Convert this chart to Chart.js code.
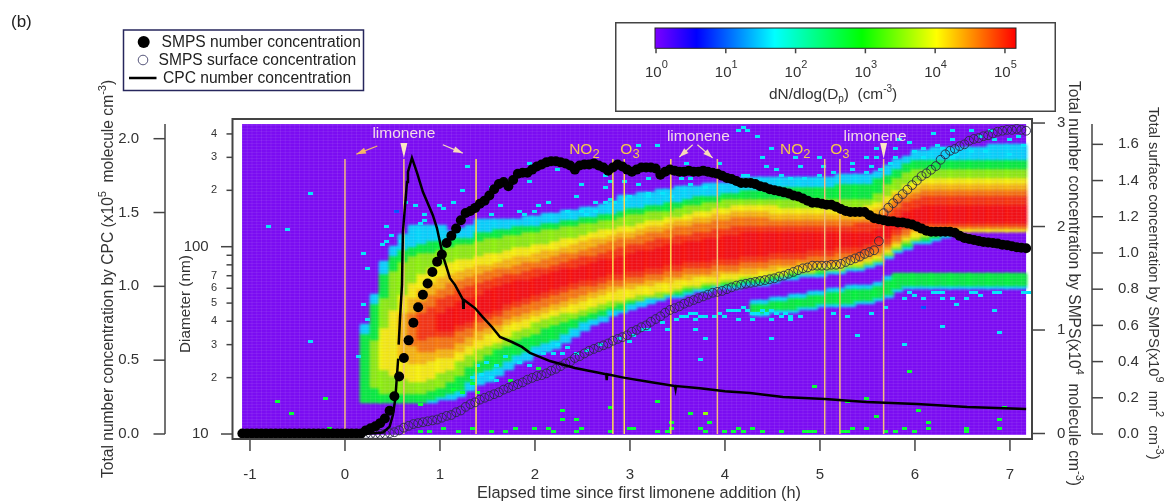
<!DOCTYPE html>
<html>
<head>
<meta charset="utf-8">
<title>Limonene SMPS chart</title>
<script src="https://cdn.jsdelivr.net/npm/chart.js@4/dist/chart.umd.min.js"></script>
<style>
html, body { margin: 0; background: #fff; }
#main { position: absolute; left: 0; top: 0; }
#bar { position: absolute; left: 615px; top: 22px; }
</style>
</head>
<body>
<canvas id="main" width="1169" height="502"></canvas>
<canvas id="bar" width="441" height="90"></canvas>
<script>
// time base of the SMPS scans (h)
var scanStart = -1.08, scanStep = 0.05;

// SMPS number concentration (x10^4 cm-3), one value per scan
var smpsNumber = [0,0,0,0,0,0,0,0,0,0,0,0,0,0,0,0,0,0,0,0,0,0,0,0,0,0,
  .03,.05,.07,.10,.145,.22,.36,.55,.73,.90,1.07,1.22,1.34,1.45,1.56,1.66,1.73,1.84,1.91,1.98,2.06,2.13,2.15,2.18,
  2.22,2.25,2.30,2.36,2.41,2.43,2.39,2.45,2.51,2.52,2.52,2.55,2.58,2.60,2.62,2.63,2.63,2.62,2.61,2.59,2.55,2.59,2.60,2.60,2.61,
  2.59,2.57,2.54,2.57,2.60,2.58,2.55,2.53,2.55,2.57,2.57,2.57,2.56,2.50,2.53,2.55,2.54,2.53,2.53,2.54,2.53,2.53,2.54,2.53,2.52,
  2.51,2.49,2.47,2.46,2.44,2.42,2.42,2.42,2.41,2.39,2.38,2.36,2.35,2.34,2.33,2.32,2.30,2.29,2.27,2.25,2.23,2.23,2.22,2.21,2.21,
  2.19,2.17,2.15,2.14,2.14,2.14,2.14,2.11,2.08,2.07,2.06,2.05,2.05,2.04,2.04,2.03,2.02,2.00,1.98,1.96,1.95,1.95,1.95,1.95,1.95,
  1.94,1.91,1.89,1.88,1.87,1.86,1.85,1.845,1.84,1.835,1.825,1.82,1.81,1.80,1.795,1.79];

// SMPS surface concentration (x10^9 nm2 cm-3), starts at scan 26
var surfaceFirstScan = 26;
var smpsSurface = [0,0,0,0,0,.005,.01,.02,.035,.045,.055,.06,.065,.07,.075,.08,.09,.10,.105,.12,.13,.15,.165,.175,
  .19,.20,.21,.22,.23,.245,.255,.265,.275,.285,.30,.31,.32,.325,.335,.35,.36,.375,.39,.40,.42,.43,.445,.46,.47,
  .48,.49,.50,.515,.525,.535,.545,.565,.575,.59,.60,.62,.635,.65,.67,.685,.695,.705,.72,.73,.74,.75,.76,.77,.78,
  .785,.79,.80,.81,.82,.825,.83,.835,.84,.845,.85,.855,.86,.87,.875,.885,.895,.905,.915,.92,.93,.93,.93,.93,.935,
  .935,.94,.95,.96,.97,.98,.995,1.005,1.015,1.065,1.22,1.25,1.275,1.30,1.325,1.35,1.375,1.40,1.425,1.44,1.46,1.48,
  1.515,1.545,1.565,1.575,1.59,1.60,1.62,1.63,1.635,1.645,1.65,1.66,1.67,1.675,1.68,1.68,1.685,1.68,1.675];

// CPC number concentration (x10^5 cm-3)
var cpcTimes = [-1.05,0,.19,.40,.47,.505,.53,.55,.56,.565,.565,.58,.60,.61,.653,.663,.705,.758,.82,.926,.968,1.03,1.105,1.158,
  1.242,1.245,1.25,1.368,1.453,1.547,1.632,1.758,1.863,1.947,2.158,2.42,2.684,2.75,2.755,2.76,2.947,3.21,3.474,3.48,3.485,3.737,4,4.263,4.61,5.05,5.49,6.02,6.55,7.17];
var cpcValues = [0,0,0,.01,.05,.13,.24,.42,.51,null,.605,.79,1.01,1.37,1.707,1.775,1.87,1.77,1.64,1.48,1.395,1.21,1.055,1.01,
  .91,.855,.91,.853,.79,.725,.657,.623,.59,.55,.494,.447,.413,.405,.365,.405,.38,.352,.325,.305,.325,.31,.29,.278,.25,.237,.217,.203,.183,.169];

// additions marked on the plot (h)
var tanEventTimes = [0,.62,3.92,5.05,5.21,5.67];
var yellowEventTimes = [1.38,2.82,2.94,3.43];
var eventTopDiameter = 294;

// size distribution: columns are 0.1 h wide starting at columnStart, values are SMPS bin numbers
// (bin 0 = 10 nm, 62.4 bins per decade). 0 = contour not present in that column.
var columnStart = 0.22;
var cyanTop = [36,46,57,62,66,69,69,69,69,67,68,69,71,71,71,71,71,72,72,73,73,74,74,75,75,76,77,79,79,80,80,81,81,82,82,82,83,83,83,84,85,85,85,85,85,85,85,85,85,85,86,86,86,86,87,89,91,92,94,94,95,95,95,95,95,95,96,96,96,96];
var greenTop = [33,43,53,59,61,62,63,64,64,65,65,65,67,67,68,68,69,69,69,70,70,71,71,72,72,73,73,74,75,75,76,76,77,77,78,79,79,79,80,80,81,81,81,81,82,82,82,82,82,82,83,83,83,83,85,86,88,90,91,91,91,91,91,91,91,91,91,91,91,91];
var limeTop = [0,31,45,54,57,59,60,60,61,62,63,63,64,65,65,66,66,67,67,68,68,69,69,70,70,71,71,72,73,73,74,74,74,75,76,76,77,77,78,78,78,78,78,78,78,78,78,78,78,78,78,78,78,78,80,83,85,87,88,88,88,88,88,88,88,88,88,88,88,88];
var yellowTop = [0,0,35,41,46,50,53,55,56,57,58,58,59,60,60,61,62,62,63,63,64,65,65,66,67,68,68,69,69,70,71,71,72,72,73,74,74,75,75,76,76,76,76,76,75,75,75,75,75,75,75,75,75,76,77,79,81,83,84,85,85,85,85,85,85,85,85,85,85,85];
var amberTop = [0,0,0,0,40,45,48,50,52,53,54,55,56,56,57,58,59,59,60,61,61,62,63,64,65,65,66,67,67,68,69,69,70,71,71,72,72,73,73,74,74,74,74,73,73,73,73,73,73,73,73,73,73,74,75,77,80,81,82,83,83,83,83,83,83,83,83,83,83,83];
var orangeTop = [0,0,0,0,0,40,44,46,48,50,51,52,53,54,55,55,56,57,57,58,59,60,60,61,62,63,64,65,65,66,67,67,68,69,69,70,70,71,71,72,72,72,72,71,71,71,71,71,71,71,71,71,71,71,73,75,78,79,80,81,81,81,81,81,81,81,81,81,81,81];
var redOrangeTop = [0,0,0,0,0,0,40,42,45,46,48,49,50,51,52,53,53,54,55,55,56,57,58,59,59,60,61,62,63,63,64,65,65,66,66,67,67,68,68,69,69,69,69,69,69,69,69,69,69,69,69,69,70,70,71,73,75,77,78,79,79,79,79,79,79,79,79,79,79,79];
var redTop = [0,0,0,0,0,0,0,0,40,42,44,45,46,48,49,50,51,51,52,53,54,55,55,56,57,58,58,59,60,61,61,62,63,63,64,64,65,65,66,66,67,67,67,67,67,67,67,67,67,67,67,67,67,67,68,70,72,74,75,76,76,76,76,76,76,76,76,76,76,76];
var redBottom = [0,0,0,0,0,0,0,0,35,35,37,38,40,41,42,44,45,46,47,48,49,50,51,52,52,53,54,54,55,55,56,56,57,57,58,58,58,59,59,59,60,60,60,61,61,61,61,62,62,62,63,63,63,64,65,66,69,71,71,71,71,71,71,71,71,71,71,71,71,71];
var redOrangeBottom = [0,0,0,0,0,0,32,33,33,33,35,36,38,39,40,42,43,44,45,46,47,48,49,50,50,51,52,52,53,53,54,54,55,55,56,56,56,57,57,57,58,58,58,59,59,59,59,60,60,60,61,61,61,62,63,64,67,69,70,70,70,70,70,70,70,70,70,70,70,70];
var orangeBottom = [0,0,0,0,0,30,28,28,29,29,31,33,35,36,37,39,40,41,42,43,44,45,46,47,48,49,50,50,51,51,52,52,53,53,54,54,54,55,55,55,56,56,56,57,57,57,58,58,58,58,59,59,59,60,61,63,65,67,69,69,69,69,69,69,69,69,69,69,69,69];
var amberBottom = [0,0,0,0,26,24,24,25,26,26,28,30,32,34,35,37,38,39,40,41,42,43,44,45,46,47,48,49,49,50,50,51,51,52,52,53,53,53,54,54,54,54,55,55,56,56,56,56,57,57,57,58,58,59,60,62,64,66,68,68,69,69,69,69,69,69,69,69,69,69];
var yellowBottom = [0,0,22,20,19,18,18,19,21,22,25,27,29,30,31,33,35,36,38,39,40,41,41,42,43,44,45,45,46,47,47,48,48,49,50,50,51,51,52,52,53,53,53,54,54,55,55,55,56,56,56,57,57,58,59,61,63,65,66,67,68,68,68,68,68,68,68,68,68,68];
var limeBottom = [0,16,14,14,14,14,14,15,16,18,20,23,25,27,29,30,32,33,34,36,37,38,39,40,41,42,43,44,45,45,46,46,47,48,49,49,50,50,51,51,52,52,52,53,53,54,54,54,55,55,55,56,56,57,58,60,62,64,65,66,67,68,68,68,68,68,68,68,68,68];
var greenBottom = [11,11,11,11,11,11,11,12,13,14,15,18,21,22,23,25,27,28,30,31,32,34,36,38,39,40,42,42,44,45,46,46,47,47,48,49,49,50,50,50,51,51,51,52,53,53,54,54,54,55,55,56,56,57,58,60,62,63,65,65,66,67,67,68,68,68,68,68,68,68];
var cyanBottom = [11,11,11,11,11,11,11,11,12,12,13,15,17,18,20,22,24,25,27,28,29,31,33,35,37,38,40,41,42,43,44,45,46,46,47,48,48,49,49,49,50,50,50,51,52,52,53,53,53,54,54,55,55,56,57,59,61,62,64,64,65,66,67,68,68,68,68,68,68,68];

// second, smaller mode below the main band, from column modeFirstColumn onward
var modeFirstColumn = 41;
var modeCyanTop = [44,44,45,45,46,46,47,47,48,48,49,49,49,50,52,53,53,53,53,53,53,53,53,53,53,53,53,53,53];
var modeCyanBottom = [40,40,41,41,41,42,42,43,43,43,43,44,44,45,46,48,49,49,49,49,49,49,49,49,49,49,49,49,49];
var modeGreenTop = [43,43,44,44,45,45,46,46,47,47,48,48,48,49,51,53,53,53,53,53,53,53,53,53,53,53,53,53,53];
var modeGreenBottom = [41,41,42,42,42,43,43,44,44,44,44,45,45,46,47,49,50,50,50,50,50,50,50,50,50,50,50,50,50];

// single scans that stand out from the background: [scan column, bin]
var cyanSpeckles = [[14,80],[5,69],[9,68],[36,76],[41,76],[42,75],[38,73],[38,71],[37,70],[30,69],[31,66],[29,63],[30,64],[25,60],[26,55],[33,64],[34,77],
  [14,31],[24,26],[25,43],[26,38],[47,89],[46,81],[44,77],[52,82],[54,76],[52,73],[60,90],[60,84],[66,88],[64,77],[62,76],[61,74],[59,73],[58,74],[68,74],[70,79],[71,83],[74,77],[76,86],[77,84],[76,82],[80,84],[83,96],[87,96],[83,83],[85,85],[93,90],[100,90],[94,85],[92,85],[104,101],[106,101],[105,86],[106,86],
  [71,74],[72,73],[74,74],[76,77],[77,78],[78,77],[80,78],[81,79],[85,80],[85,79],[88,80],[90,79],[94,83],[97,82],
  [108,99],[111,95],[109,92],[110,89],[112,88],[113,86],[116,92],[117,89],[115,85],[118,85],[121,92],[122,89],[121,86],[124,87],[128,90],[128,88],[131,92],[133,95],[133,92],[132,89],[131,87],[134,88],[136,90],[137,92],[137,95],[138,98],[140,97],[141,94],[143,95],[145,100],[146,96],[149,101],[149,98],[153,101],[155,99],[157,101],[158,98],[161,98],[163,99],[164,96],[156,94],[161,93],[153,94],[150,93],[149,92],[147,95],[143,92],[105,102],
  [49,23],[51,24],[50,20],[52,19],[53,23],[48,19],[53,18],[55,26],[58,24],[60,23],[63,27],[65,27],[67,27],[68,29],[70,27],[72,28],[66,30],[75,30],[79,32],[81,31],[82,33],[84,35],[85,35],[88,37],[89,35],[95,35],[97,32],[96,25],[91,38],
  [92,39],[93,39],[94,40],[95,40],[96,39],[97,39],[99,39],[100,40],[101,39],[102,41],[103,41],[104,41],[104,38],[105,42],[106,41],[95,38],[107,40],[108,40],[109,41],[110,40],[111,41],[112,40],[113,39],[114,40],[115,39],
  [111,32],[129,33],[139,30],[147,36],[159,34],[158,41],[150,43],[135,42],[132,40],[127,39],[124,40],[115,38],[117,39],[111,38],[107,38],[139,45],[143,45],[147,45],[149,45],[152,45],[155,46],[145,47],[146,47],[147,47],[153,47],[154,47],[158,47],[159,47],[164,47],[165,47],[141,46],[140,47]];
var greenSpeckles = [[7,11],[10,7],[17,12],[18,2],[37,10],[37,1],[39,1],[42,2],[48,17],[46,14],[49,14],[44,15],[56,18],[62,22],[67,8],[67,5],[70,5],[77,9],[87,11],[94,7],[98,4],[48,2],[45,1],[52,1],[55,1],[57,2],[61,2],[64,2],[65,1],[70,1],[71,2],[77,1],[81,2],[82,2],[87,1],[89,1],[90,4],[90,2],[96,2],[97,1],[101,1],[103,1],[104,2],[105,1],
  [120,16],[131,12],[127,11],[140,21],[142,8],[133,6],[160,9],[159,5],[144,4],[139,2],[159,2],[107,2],[131,2],[144,2],[152,2],[141,1],[137,1],[119,1],[120,1],[126,1],[127,1],[128,2],[109,1],[113,1],[118,1],[135,1],[152,1]];
var limeSpeckles = [[97,7]];
var blueSpeckles = [[143,42],[32,74]];
var speckleStart = -1.084, speckleStep = 0.05;

// axis ticks
var timeTicks = [-1,0,1,2,3,4,5,6,7];
var diameterTicks = [10,20,30,40,50,60,70,80,90,100,200,300,400];
var diameterLabels = ['10  ','2','3','4','5','6','7','','','100  ','2','3','4'];
var cpcTicks = [0,.5,1,1.5,2];
var numberTicks = [0,1,2,3];
var surfaceTicks = [0,.2,.4,.6,.8,1,1.2,1.4,1.6];
var colorTicks = [1,10,100,1000,10000,100000];
var colorTickPowers = ['0','1','2','3','4','5'];
// color bar stops: [log10 of dN/dlogDp, colour]
var colorStops = [[-.01,'#7b00ff'],[.58,'#0000ff'],[1.70,'#00ffff'],[2.95,'#00ff00'],[4.02,'#ffff00'],[5.16,'#ff0000']];

// colours of the heat levels, index = level
var levelColors = ['#7b0cf2','#00e4fa','#00ff30','#90ff00','#ffff00','#ffc400','#ff8000','#ff3c00','#ff1400','#0050ff'];
var FONT = '"Liberation Sans", Arial, sans-serif';
var TEXT = '#333';
var AXIS = '#444';

function makeSprite(w, h, color) {
  var c = document.createElement('canvas');
  c.width = w; c.height = h;
  var g = c.getContext('2d');
  g.fillStyle = color;
  g.fillRect(0, 0, w, h);
  return c;
}
var wideCell = levelColors.map(function (c) { return makeSprite(11, 4, c); });
var fineCell = levelColors.map(function (c) { return makeSprite(5, 3, c); });

function binDiameter(bin) {
  return 10 * Math.pow(10, bin / 62.43);
}

// fill the heat cells from the contours
var topEdges = [cyanTop, greenTop, limeTop, yellowTop, amberTop, orangeTop, redOrangeTop, redTop];
var bottomEdges = [cyanBottom, greenBottom, limeBottom, yellowBottom, amberBottom, orangeBottom, redOrangeBottom, redBottom];
var bandCells = [];
cyanTop.forEach(function (_, col) {
  for (var bin = 1; bin <= 103; bin++) {
    var level = 0;
    for (var i = 0; i < topEdges.length; i++) {
      if (bin >= bottomEdges[i][col] && bin <= topEdges[i][col]) level = i + 1;
    }
    var m = col - modeFirstColumn;
    if (!level && m >= 0) {
      if (bin >= modeCyanBottom[m] && bin <= modeCyanTop[m]) level = 1;
      if (bin >= modeGreenBottom[m] && bin <= modeGreenTop[m]) level = 2;
    }
    if (level) bandCells.push({ x: columnStart + col * 0.1, y: binDiameter(bin), sprite: wideCell[level] });
  }
});
var speckleCells = [];
function addSpeckles(list, level) {
  list.forEach(function (s) {
    speckleCells.push({ x: speckleStart + (s[0] + .5) * speckleStep, y: binDiameter(s[1]), sprite: fineCell[level] });
  });
}
addSpeckles(cyanSpeckles, 1);
addSpeckles(greenSpeckles, 2);
addSpeckles(limeSpeckles, 3);
addSpeckles(blueSpeckles, 9);

var numberPoints = smpsNumber.map(function (v, i) { return { x: scanStart + i * scanStep, y: v }; });
var surfacePoints = smpsSurface.map(function (v, i) { return { x: scanStart + (i + surfaceFirstScan) * scanStep, y: v }; });
var cpcPoints = cpcValues.map(function (v, i) { return { x: cpcTimes[i], y: v }; });
function eventLines(times) {
  var pts = [];
  times.forEach(function (t) {
    pts.push({ x: t, y: 10 }, { x: t, y: eventTopDiameter }, { x: t, y: null });
  });
  return pts;
}

// text made of runs: [string, size, raise]
function drawRuns(ctx, x, y, angle, runs, color) {
  ctx.save();
  ctx.translate(x, y);
  ctx.rotate(angle);
  ctx.fillStyle = color || TEXT;
  ctx.textAlign = 'left';
  ctx.textBaseline = 'alphabetic';
  var at = 0;
  runs.forEach(function (r) {
    ctx.font = r[1] + 'px ' + FONT;
    ctx.fillText(r[0], at, -(r[2] || 0));
    at += ctx.measureText(r[0]).width;
  });
  ctx.restore();
}

function fixedTicks(values) {
  return function (scale) {
    scale.ticks = values.map(function (v) { return { value: v }; });
  };
}
function fitWidth(w) { return function (scale) { scale.width = w; }; }

var HALF = Math.PI / 2;

// callouts on the plot, placed in time / diameter
var callouts = [
  { t: .62, d: 405, text: [['limonene', 15.5]], color: '#f3d9e6' },
  { t: 3.72, d: 390, text: [['limonene', 15.5]], color: '#f3d9e6' },
  { t: 5.58, d: 390, text: [['limonene', 15.5]], color: '#f3d9e6' },
  { t: 2.52, d: 332, text: [['NO', 15.5], ['2', 13, -4]], color: '#f4c84a' },
  { t: 3.0, d: 332, text: [['O', 15.5], ['3', 13, -4]], color: '#f4c84a' },
  { t: 4.74, d: 332, text: [['NO', 15.5], ['2', 13, -4]], color: '#f4c84a' },
  { t: 5.21, d: 332, text: [['O', 15.5], ['3', 13, -4]], color: '#f4c84a' }
];
var downMarks = [{ t: .62, top: 358, tip: 298 }, { t: 5.67, top: 358, tip: 295 }];
var arrowMarks = [
  { t0: .34, d0: 345, t1: .12, d1: 312, color: '#f5b668' },
  { t0: 1.03, d0: 350, t1: 1.24, d1: 316, color: '#f7dcb8' },
  { t0: 3.66, d0: 350, t1: 3.52, d1: 301, color: '#f7dcb8' },
  { t0: 3.71, d0: 350, t1: 3.87, d1: 298, color: '#f7dcb8' }
];

var plotDecor = {
  id: 'plotDecor',
  beforeDatasetsDraw: function (chart) {
    var c = chart.ctx, x = chart.scales.x, y = chart.scales.yDia;
    var l = x.getPixelForValue(-1.084), r = x.getPixelForValue(7.17);
    var t = y.getPixelForValue(binDiameter(103.3)), b = y.getPixelForValue(9.9);
    c.fillStyle = levelColors[0];
    c.fillRect(l, t, r - l, b - t);
  },
  // the band is soft in the original, smooth it out; single cells stay crisp
  beforeDatasetDraw: function (chart, args) {
    if (args.index === 0) chart.ctx.filter = 'blur(1.6px)';
  },
  afterDatasetDraw: function (chart, args) {
    if (args.index === 0) chart.ctx.filter = 'none';
    if (args.index !== 1) return;
    // faint cell lines of the original image
    var c = chart.ctx, x = chart.scales.x, y = chart.scales.yDia;
    var l = x.getPixelForValue(-1.084), r = x.getPixelForValue(7.17);
    var t = y.getPixelForValue(binDiameter(103.3)), b = y.getPixelForValue(9.9);
    c.save();
    c.fillStyle = 'rgba(255,255,255,.07)';
    for (var i = 0; i * speckleStep < 8.26; i++) {
      var px = x.getPixelForValue(speckleStart + i * speckleStep);
      c.fillRect(px, t, 1, b - t);
    }
    for (var k = 0; k <= 103; k++) {
      c.fillRect(l, y.getPixelForValue(binDiameter(k)), r - l, 1);
    }
    c.restore();
  },
  afterDraw: function (chart) {
    var c = chart.ctx, s = chart.scales, a = chart.chartArea;
    c.save();
    // frame
    c.strokeStyle = AXIS;
    c.lineWidth = 2;
    c.strokeRect(a.left, a.top, a.right - a.left, a.bottom - a.top);

    // tick marks
    c.lineWidth = 1.5;
    function hTick(y, x0, x1) { c.beginPath(); c.moveTo(x0, y); c.lineTo(x1, y); c.stroke(); }
    function vTick(x, y0, y1) { c.beginPath(); c.moveTo(x, y0); c.lineTo(x, y1); c.stroke(); }
    timeTicks.forEach(function (v) { var p = s.x.getPixelForValue(v); vTick(p, a.bottom, a.bottom + 12); });
    diameterTicks.forEach(function (v, i) {
      var big = v === 10 || v === 100;
      hTick(s.yDia.getPixelForValue(v), a.left - (big ? 11.5 : 6), a.left);
    });
    var cpcX = s.yCpc.right, surfX = s.ySurf.left;
    cpcTicks.forEach(function (v) { hTick(s.yCpc.getPixelForValue(v), cpcX - 11.5, cpcX); });
    numberTicks.forEach(function (v) { hTick(s.ySmps.getPixelForValue(v), a.right, a.right + 13); });
    surfaceTicks.forEach(function (v) { hTick(s.ySurf.getPixelForValue(v), surfX, surfX + 11); });
    vTick(cpcX, s.yCpc.getPixelForValue(2.1), s.yCpc.getPixelForValue(0));
    vTick(surfX, s.ySurf.getPixelForValue(1.713), s.ySurf.getPixelForValue(0));

    // callout text and arrows
    callouts.forEach(function (n) {
      var w = 0;
      n.text.forEach(function (r) { c.font = r[1] + 'px ' + FONT; w += c.measureText(r[0]).width; });
      drawRuns(c, s.x.getPixelForValue(n.t) - w / 2, s.yDia.getPixelForValue(n.d) + 5, 0, n.text, n.color);
    });
    downMarks.forEach(function (m) {
      var px = s.x.getPixelForValue(m.t), y0 = s.yDia.getPixelForValue(m.top), y1 = s.yDia.getPixelForValue(m.tip);
      c.fillStyle = '#fbe6c4';
      c.beginPath(); c.moveTo(px - 3.5, y0); c.lineTo(px + 3.5, y0); c.lineTo(px, y1); c.closePath(); c.fill();
    });
    arrowMarks.forEach(function (m) {
      var x0 = s.x.getPixelForValue(m.t0), y0 = s.yDia.getPixelForValue(m.d0);
      var x1 = s.x.getPixelForValue(m.t1), y1 = s.yDia.getPixelForValue(m.d1);
      var ang = Math.atan2(y1 - y0, x1 - x0);
      c.strokeStyle = m.color; c.fillStyle = m.color; c.lineWidth = 1.2;
      c.beginPath(); c.moveTo(x0, y0); c.lineTo(x1, y1); c.stroke();
      c.beginPath(); c.moveTo(x1, y1);
      c.lineTo(x1 - 10 * Math.cos(ang - .32), y1 - 10 * Math.sin(ang - .32));
      c.lineTo(x1 - 10 * Math.cos(ang + .32), y1 - 10 * Math.sin(ang + .32));
      c.closePath(); c.fill();
    });

    // titles
    drawRuns(c, 11, 27, 0, [['(b)', 17]], '#222');
    drawRuns(c, 113, 478, -HALF, [['Total number concentration by CPC (x10', 15.6], ['5', 11, 7], ['  molecule cm', 15.6], ['-3', 11, 7], [')', 15.6, 0]]);
    drawRuns(c, 190, 353, -HALF, [['Diameter (nm)', 15.3]]);
    drawRuns(c, 477, 498, 0, [['Elapsed time since first limonene addition (h)', 16.3]]);
    drawRuns(c, 1069, 81, HALF, [['Total number concentration by SMPS(x10', 15.6], ['4', 11, 7], ['  molecule cm', 15.6], ['-3', 11, 7], [')', 15.6]]);
    drawRuns(c, 1149, 107, HALF, [['Total surface concentration by SMPS(x10', 14.7], ['9', 11, 7], ['  nm', 14.7], ['2', 11, 7], ['  cm', 14.7], ['-3', 11, 7], [')', 14.7]]);

    // legend
    c.strokeStyle = '#26265c'; c.lineWidth = 1.5;
    c.strokeRect(123.5, 30, 240, 60.5);
    c.fillStyle = '#000';
    c.beginPath(); c.arc(143.7, 42, 6, 0, 7); c.fill();
    c.strokeStyle = '#55557a'; c.lineWidth = 1;
    c.beginPath(); c.arc(143, 60, 4.8, 0, 7); c.stroke();
    c.strokeStyle = '#000'; c.lineWidth = 2.5;
    c.beginPath(); c.moveTo(129, 78); c.lineTo(156.5, 78); c.stroke();
    drawRuns(c, 161.5, 47, 0, [['SMPS number concentration', 15.6]], '#222');
    drawRuns(c, 158.5, 65, 0, [['SMPS surface concentration', 15.6]], '#222');
    drawRuns(c, 163, 83, 0, [['CPC number concentration', 15.6]], '#222');
    c.restore();
  }
};

function cellStyle(ctx) { return ctx.raw ? ctx.raw.sprite : 'rect'; }

new Chart(document.getElementById('main').getContext('2d'), {
  type: 'scatter',
  plugins: [plotDecor],
  data: {
    datasets: [
      { label: 'dN/dlog(Dp) band', data: bandCells, xAxisID: 'x', yAxisID: 'yDia', order: 7, pointRadius: 1, pointHoverRadius: 1, pointStyle: cellStyle },
      { label: 'dN/dlog(Dp) single cells', data: speckleCells, xAxisID: 'x', yAxisID: 'yDia', order: 6, pointRadius: 1, pointHoverRadius: 1, pointStyle: cellStyle },
      { label: 'additions', data: eventLines(tanEventTimes), xAxisID: 'x', yAxisID: 'yDia', order: 5, showLine: true, spanGaps: false,
        pointRadius: 0, borderColor: '#f2bf7c', borderWidth: 1.5 },
      { label: 'additions in band', data: eventLines(yellowEventTimes), xAxisID: 'x', yAxisID: 'yDia', order: 4, showLine: true, spanGaps: false,
        pointRadius: 0, borderColor: '#ffdc50', borderWidth: 1.5 },
      { label: 'SMPS surface concentration', data: surfacePoints, xAxisID: 'x', yAxisID: 'ySurf', order: 3, pointRadius: 4.4,
        pointStyle: 'circle', backgroundColor: 'rgba(0,0,0,0)', borderColor: '#2a2a44', borderWidth: 0.9 },
      { label: 'SMPS number concentration', data: numberPoints, xAxisID: 'x', yAxisID: 'ySmps', order: 2, pointRadius: 5,
        pointStyle: 'circle', backgroundColor: '#000', borderColor: '#000', borderWidth: 0 },
      { label: 'CPC number concentration', data: cpcPoints, xAxisID: 'x', yAxisID: 'yCpc', order: 1, showLine: true, spanGaps: false,
        pointRadius: 0, borderColor: '#000', borderWidth: 2.5 }
    ]
  },
  options: {
    responsive: false,
    animation: false,
    events: [],
    layout: { padding: { top: 119, left: 0, right: 0, bottom: 0 } },
    plugins: { legend: { display: false }, tooltip: { enabled: false } },
    scales: {
      x: {
        type: 'linear', position: 'bottom', min: -1.184, max: 7.232,
        afterBuildTicks: fixedTicks(timeTicks),
        afterFit: function (scale) { scale.height = 63; },
        grid: { display: false }, border: { display: false },
        ticks: { autoSkip: false, maxRotation: 0, padding: 19, color: TEXT, font: { family: FONT, size: 15 } }
      },
      yDia: {
        type: 'logarithmic', position: 'left', weight: 0, min: 9.405, max: 480.6,
        afterBuildTicks: fixedTicks(diameterTicks),
        afterFit: fitWidth(67.5),
        grid: { display: false }, border: { display: false },
        ticks: {
          autoSkip: false, padding: 7.5, color: TEXT,
          callback: function (v, i) { return diameterLabels[i]; },
          font: function (ctx) {
            var big = ctx.tick && (ctx.tick.value === 10 || ctx.tick.value === 100);
            return { family: FONT, size: big ? 15 : 11 };
          }
        }
      },
      yCpc: {
        type: 'linear', position: 'left', weight: 1, min: -0.0339, max: 2.1334,
        afterBuildTicks: fixedTicks(cpcTicks),
        afterFit: fitWidth(165),
        grid: { display: false }, border: { display: false },
        ticks: { autoSkip: false, padding: 18, color: TEXT, font: { family: FONT, size: 15 },
          callback: function (v) { return v.toFixed(1); } }
      },
      ySmps: {
        type: 'linear', position: 'right', weight: 0, min: -0.0531, max: 3.039,
        afterBuildTicks: fixedTicks(numberTicks),
        afterFit: fitWidth(60),
        grid: { display: false }, border: { display: false },
        ticks: { autoSkip: false, padding: 17, color: TEXT, font: { family: FONT, size: 15 } }
      },
      ySurf: {
        type: 'linear', position: 'right', weight: 1, min: -0.0276, max: 1.740,
        afterBuildTicks: fixedTicks(surfaceTicks),
        afterFit: fitWidth(77),
        grid: { display: false }, border: { display: false },
        ticks: { autoSkip: false, padding: 18, color: TEXT, font: { family: FONT, size: 15 },
          callback: function (v) { return v.toFixed(1); } }
      }
    }
  }
});

// the colour scale in its own box
var barDecor = {
  id: 'barDecor',
  afterDraw: function (chart) {
    var c = chart.ctx, x = chart.scales.x, a = chart.chartArea;
    var x0 = a.left, x1 = a.right;
    var grad = c.createLinearGradient(x0, 0, x1, 0);
    colorStops.forEach(function (s) {
      var p = (x.getPixelForValue(Math.pow(10, s[0])) - x0) / (x1 - x0);
      grad.addColorStop(Math.min(1, Math.max(0, p)), s[1]);
    });
    c.save();
    c.fillStyle = grad;
    c.fillRect(x0, a.top, x1 - x0, a.bottom - a.top);
    c.strokeStyle = '#222'; c.lineWidth = 1;
    c.strokeRect(x0, a.top, x1 - x0, a.bottom - a.top);
    c.strokeStyle = AXIS; c.lineWidth = 1.5;
    c.strokeRect(.75, .75, chart.width - 1.5, chart.height - 1.5);
    colorTicks.forEach(function (v, i) {
      var p = x.getPixelForValue(v);
      c.beginPath(); c.moveTo(p, a.bottom); c.lineTo(p, a.bottom + 5); c.stroke();
      drawRuns(c, p - 11, 55, 0, [['10', 15], [colorTickPowers[i], 11, 9]]);
    });
    drawRuns(c, 154, 77, 0, [['dN/dlog(D', 15.4], ['p', 10, -3], [')  (cm', 15.4], ['-3', 10, 7], [')', 15.4]]);
    c.restore();
  }
};

new Chart(document.getElementById('bar').getContext('2d'), {
  type: 'scatter',
  plugins: [barDecor],
  data: { datasets: [] },
  options: {
    responsive: false,
    animation: false,
    events: [],
    layout: { padding: { left: 40, right: 40, top: 6, bottom: 0 } },
    plugins: { legend: { display: false }, tooltip: { enabled: false } },
    scales: {
      x: {
        type: 'logarithmic', min: 0.967, max: 144000,
        afterBuildTicks: fixedTicks(colorTicks),
        afterFit: function (scale) { scale.height = 63.7; },
        grid: { display: false }, border: { display: false },
        ticks: { display: false }
      },
      y: { display: false }
    }
  }
});
</script>
</body>
</html>
